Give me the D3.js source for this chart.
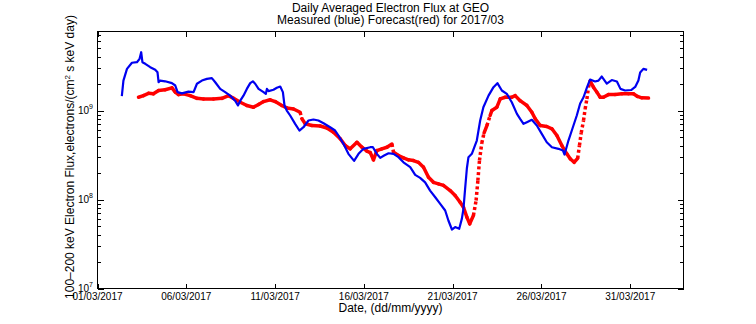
<!DOCTYPE html>
<html><head><meta charset="utf-8">
<script src="https://cdn.jsdelivr.net/npm/d3@7"></script>
<style>body{margin:0;background:#fff}svg{display:block}text{font-family:"Liberation Sans",Arial,sans-serif;fill:#000}</style>
</head><body><svg id="c" width="756" height="324"></svg>
<script>
// ---- data (day of March 2017, flux in electrons/(cm2 s keV day)) ----
const measuredDays = [2.37,2.46,2.66,2.94,3.22,3.37,3.46,3.53,3.69,3.97,
4.25,4.38,4.44,4.53,4.81,5.19,5.38,5.51,5.75,6.12,
6.41,6.60,6.88,7.16,7.44,7.63,7.91,8.19,8.47,8.75,
8.91,9.04,9.22,9.41,9.60,9.75,9.88,10.07,10.35,10.48,
10.54,10.63,10.91,11.10,11.29,11.44,11.53,11.66,11.85,12.13,
12.37,12.60,12.88,13.16,13.44,13.73,14.10,14.38,14.57,14.85,
15.13,15.45,15.70,15.98,16.36,16.51,16.73,16.92,17.14,17.39,
17.67,17.95,18.23,18.61,18.89,19.17,19.45,19.73,20.02,20.30,
20.58,20.76,20.96,21.14,21.37,21.52,21.61,21.70,21.80,21.89,
22.08,22.36,22.55,22.73,23.02,23.30,23.52,23.77,24.05,24.33,
24.62,24.80,24.99,25.18,25.46,25.74,26.02,26.30,26.59,26.96,
27.21,27.30,27.52,27.71,27.99,28.18,28.37,28.56,28.74,29.02,
29.21,29.40,29.68,29.96,30.25,30.45,30.71,31.05,31.28,31.46,
31.56,31.74,31.95];
const measuredFlux = [14.5e8,21.7e8,29.4e8,34.4e8,34.9e8,38.1e8,45.2e8,34.9e8,33.5e8,30.7e8,
28.7e8,26.9e8,20.8e8,21.7e8,21.3e8,20.3e8,19.1e8,16.1e8,15.6e8,16.3e8,
16.1e8,20.0e8,21.7e8,22.7e8,23.1e8,20.8e8,17.5e8,16.1e8,14.7e8,12.9e8,
11.4e8,12.9e8,14.7e8,17.5e8,20.3e8,21.3e8,20.0e8,17.5e8,16.1e8,15.4e8,
17.5e8,16.5e8,17.1e8,18.0e8,18.6e8,16.1e8,11.4e8,10.0e8,8.79e8,7.09e8,
5.96e8,6.49e8,7.72e8,7.93e8,7.72e8,7.20e8,6.49e8,5.96e8,5.24e8,4.22e8,
3.26e8,2.72e8,3.26e8,3.71e8,3.87e8,3.87e8,3.26e8,2.94e8,3.12e8,3.31e8,
3.26e8,2.99e8,2.62e8,2.31e8,1.89e8,1.75e8,1.56e8,1.26e8,1.06e8,0.895e8,
0.752e8,0.581e8,0.46e8,0.49e8,0.469e8,0.61e8,0.79e8,1.31e8,2.23e8,2.99e8,
3.26e8,4.60e8,7.72e8,10.9e8,14.7e8,18.3e8,20.3e8,16.8e8,15.4e8,12.4e8,
9.18e8,8.07e8,7.09e8,7.39e8,7.87e8,6.78e8,5.47e8,4.40e8,3.87e8,3.71e8,
3.55e8,3.2e8,4.60e8,5.96e8,8.79e8,12.0e8,14.1e8,18.1e8,22.3e8,21.2e8,
21.7e8,24.1e8,20.1e8,22.0e8,21.2e8,17.5e8,16.8e8,17.0e8,18.4e8,21.7e8,
26.7e8,29.4e8,28.6e8];

const forecastDays = [3.31,3.59,3.87,4.15,4.44,4.81,5.19,5.38,5.56,5.84,
6.22,6.60,6.97,7.53,8.01,8.38,8.66,9.04,9.41,9.78,
10.07,10.35,10.72,11.01,11.38,11.66,12.04,12.41,12.51,12.70,
13.07,13.54,13.92,14.29,14.67,14.95,15.23,15.61,15.89,16.17,
16.36,16.54,16.73,17.01,17.30,17.58,17.67,17.95,18.23,18.51,
18.79,19.07,19.36,19.64,19.92,20.20,20.48,20.86,21.14,21.42,
21.61,21.80,21.96,22.17,22.32,22.42,22.51,22.64,22.77,22.93,
23.11,23.21,23.49,23.68,23.96,24.33,24.52,24.80,25.18,25.46,
25.65,25.93,26.30,26.59,26.87,27.15,27.43,27.62,27.84,28.04,
28.14,28.24,28.37,28.46,28.56,28.65,28.74,28.93,29.12,29.31,
29.49,29.77,30.15,30.53,30.90,31.18,31.41,31.65,32.03];
const forecastFlux = [14.1e8,14.7e8,15.6e8,15.4e8,16.8e8,17.1e8,18.0e8,16.1e8,15.1e8,15.4e8,
14.7e8,13.7e8,13.5e8,13.5e8,13.7e8,14.7e8,13.7e8,12.4e8,11.4e8,10.9e8,
11.7e8,12.6e8,13.2e8,12.6e8,11.4e8,10.7e8,10.4e8,9.57e8,8.07e8,7.09e8,
6.78e8,6.70e8,6.36e8,5.70e8,4.81e8,4.04e8,3.71e8,4.40e8,3.87e8,3.50e8,
3.37e8,2.79e8,3.55e8,3.71e8,3.87e8,4.20e8,3.40e8,3.12e8,2.94e8,2.79e8,
2.74e8,2.62e8,2.31e8,1.78e8,1.56e8,1.50e8,1.44e8,1.26e8,1.11e8,0.933e8,
0.819e8,0.633e8,0.533e8,0.661e8,0.975e8,1.63e8,2.74e8,4.30e8,5.60e8,6.78e8,
8.79e8,10.0e8,10.9e8,13.5e8,14.1e8,14.1e8,14.7e8,12.9e8,11.4e8,9.57e8,
8.07e8,6.78e8,6.61e8,6.23e8,5.24e8,4.04e8,3.26e8,2.87e8,2.62e8,2.90e8,
4.04e8,5.60e8,7.72e8,10.4e8,13.5e8,18.3e8,21.4e8,18.3e8,16.1e8,14.1e8,
14.1e8,15.1e8,15.1e8,15.4e8,15.4e8,15.4e8,14.4e8,13.9e8,13.8e8];

const xTickDays = [1,6,11,16,21,26,31];
const xTickLabels = ["01/03/2017","06/03/2017","11/03/2017","16/03/2017","21/03/2017","26/03/2017","31/03/2017"];
const yDecadeExponents = [7,8,9];
const titleLines = ["Daily Averaged Electron Flux at GEO","Measured (blue) Forecast(red) for 2017/03"];
const xAxisTitle = "Date, (dd/mm/yyyy)";

// ---- layout ----
const svg = d3.select("#c");
const L = 97.5, R = 683.5, T = 31.5, B = 288.5;
const x = d3.scaleLinear().domain([1, 34]).range([L, R]);
const y = d3.scaleLog().domain([1e7, Math.pow(10, 9.888)]).range([B, T]);

svg.append("rect").attr("x", L).attr("y", T).attr("width", R - L).attr("height", B - T)
  .attr("fill", "none").attr("stroke", "#000").attr("stroke-width", 1).attr("shape-rendering", "crispEdges");

const tickG = svg.append("g").attr("stroke", "#000").attr("stroke-width", 1).attr("shape-rendering", "crispEdges");
xTickDays.forEach(d => {
  const px = Math.round(x(d)) + 0.5;
  tickG.append("line").attr("x1", px).attr("x2", px).attr("y1", B).attr("y2", B - 5);
  tickG.append("line").attr("x1", px).attr("x2", px).attr("y1", T).attr("y2", T + 5);
});
const ymax = y.domain()[1];
yDecadeExponents.forEach(e => {
  for (let k = 1; k <= 9; k++) {
    const v = k * Math.pow(10, e);
    if (v > ymax) break;
    const py = Math.round(y(v)) + 0.5;
    const len = k === 1 ? 6 : 3.5;
    tickG.append("line").attr("x1", L).attr("x2", L + len).attr("y1", py).attr("y2", py);
    tickG.append("line").attr("x1", R).attr("x2", R - len).attr("y1", py).attr("y2", py);
  }
});

xTickDays.forEach((d, i) => {
  svg.append("text").attr("x", x(d)).attr("y", 299.8).attr("text-anchor", "middle")
    .attr("font-size", 10).text(xTickLabels[i]);
});
yDecadeExponents.forEach(e => {
  const t = svg.append("text").attr("x", 93).attr("y", y(Math.pow(10, e)) + 3)
    .attr("text-anchor", "end").attr("font-size", 10);
  t.append("tspan").text("10");
  t.append("tspan").attr("dy", -4.5).attr("font-size", 7).text(String(e));
});

titleLines.forEach((s, i) => {
  svg.append("text").attr("x", (L + R) / 2).attr("y", 11.5 + i * 12.5).attr("text-anchor", "middle")
    .attr("font-size", 12).text(s);
});
svg.append("text").attr("x", (L + R) / 2).attr("y", 311.8).attr("text-anchor", "middle")
  .attr("font-size", 12).text(xAxisTitle);
const yt = svg.append("text").attr("transform", `translate(74,${(T + B) / 2 - 3}) rotate(-90)`)
  .attr("text-anchor", "middle").attr("font-size", 12);
yt.append("tspan").text("100\u2013200 keV Electron Flux,electrons/(cm");
yt.append("tspan").attr("dy", -4).attr("font-size", 8).text("2");
yt.append("tspan").attr("dy", 4).text(" s keV day)");

// ---- series ----
const plot = svg.append("g");
const fpts = forecastDays.map((d, i) => [x(d), y(forecastFlux[i])]);
for (let i = 0; i < fpts.length - 1; i++) {
  const [x0, y0] = fpts[i], [x1, y1] = fpts[i + 1];
  const steep = Math.abs(y1 - y0) > 3 * Math.abs(x1 - x0) && Math.abs(y1 - y0) > 6;
  plot.append("line").attr("x1", x0).attr("y1", y0).attr("x2", x1).attr("y2", y1)
    .attr("stroke", "#f00").attr("stroke-width", 3.5)
    .attr("stroke-linecap", steep ? "butt" : "round")
    .attr("stroke-dasharray", steep ? "3,2.6" : null);
}
const line = d3.line().x((d, i) => x(measuredDays[i])).y(d => y(d));
plot.append("path").datum(measuredFlux).attr("d", line)
  .attr("fill", "none").attr("stroke", "#0000f0").attr("stroke-width", 2.2)
  .attr("stroke-linejoin", "round");
</script>
</body></html>
